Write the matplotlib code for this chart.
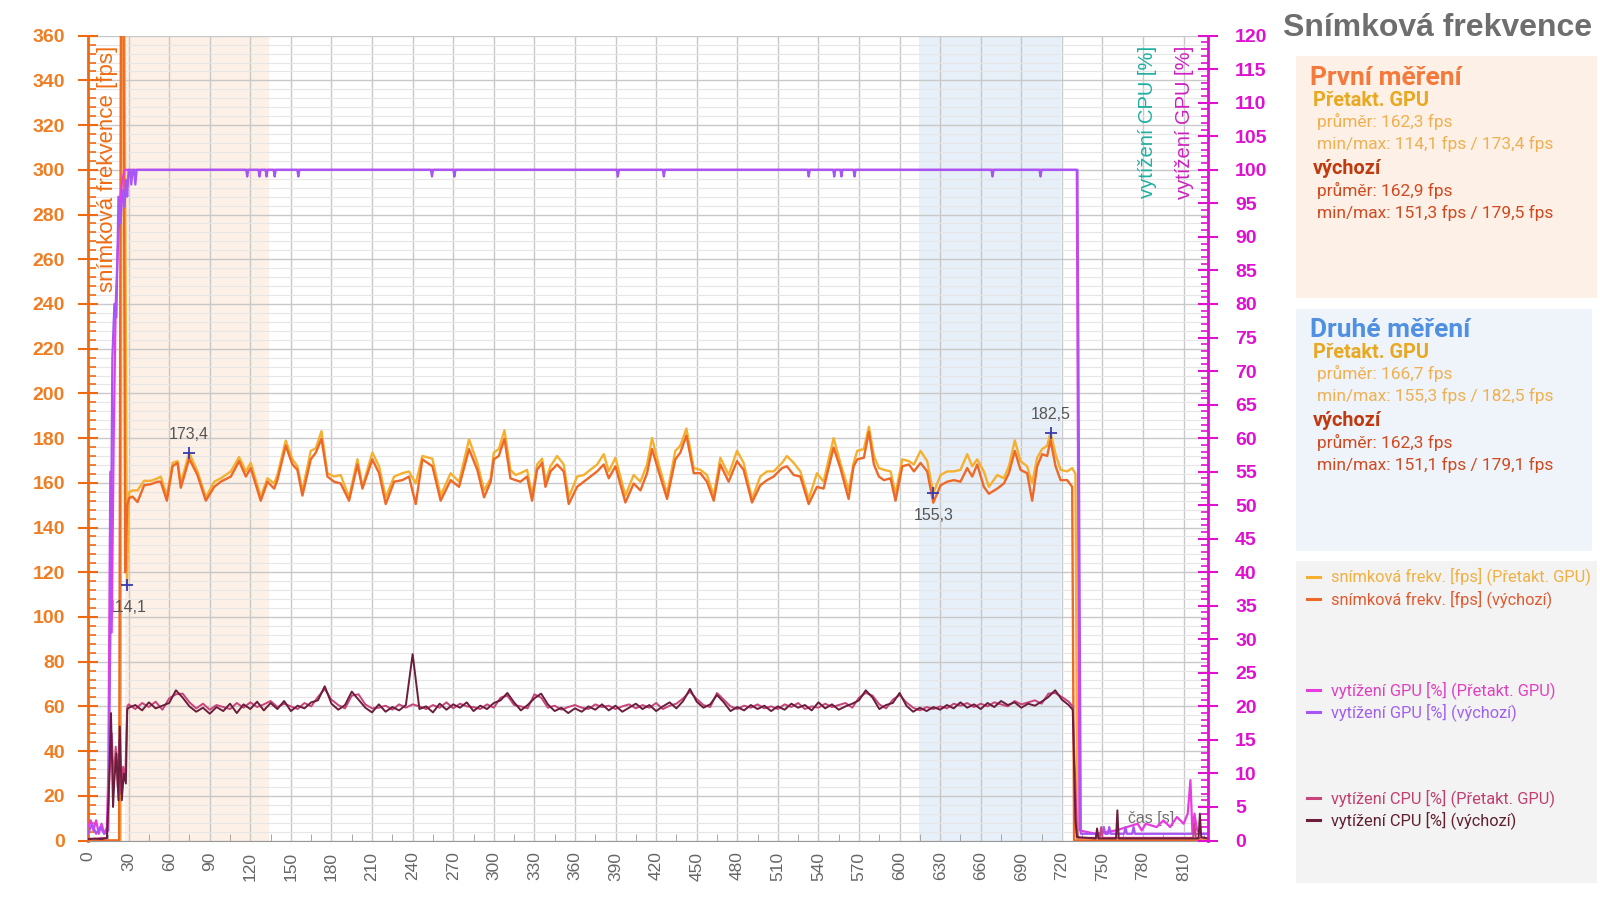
import numpy as np
import matplotlib
matplotlib.use("Agg")
import matplotlib.pyplot as plt
from matplotlib.patches import Rectangle
from matplotlib.lines import Line2D
from matplotlib.ticker import MultipleLocator, FixedLocator

plt.rcParams['font.family'] = ['Liberation Sans', 'DejaVu Sans']

# ---- frame rate (fps), left axis ----
fps_t = [30.4, 32.9, 36.6, 41.5, 46.5, 51.4, 53.8, 58.3, 62.5, 66.2,
         68.6, 74.8, 80.9, 87.1, 93.3, 98.2, 105.6, 111.7, 116.7, 120.3,
         127.7, 132.7, 137.6, 140, 146.2, 151.1, 154.8, 158.5, 164.7, 168.4,
         172.6, 177, 181.9, 186.8, 193, 199.2, 202.9, 210.2, 215.2, 220.1,
         226.3, 232.4, 237.3, 242.3, 247.2, 254.6, 260.7, 268.1, 274.3, 281.7,
         287.8, 292.8, 297.7,
         300, 303.7, 307.9, 312.3, 316, 319.7, 324.6, 328.3, 332, 335.7,
         338.2, 341.9, 346.8, 351.7, 355.4, 361.6, 366.5, 371.4, 376.4, 381.3,
         385, 389.9, 397.3, 403.4, 408.4, 413.3, 417, 421.9, 428.1, 434.2,
         437.9, 442.4, 447.8, 452.7, 457.6, 462.6, 467.5, 473.6, 479.8, 484.7,
         490.9, 497, 502, 506.9, 513.1, 516.7, 521.7, 526.6, 532.8, 538.9,
         543.8, 551.2, 556.2, 562.3, 566,
         568.7, 573.6, 577.3, 581, 584.7, 588.4, 593.3, 597, 602, 606.9,
         610.6, 615.5, 620.4, 624.9, 630.3, 635.2, 640.1, 645, 650, 653.7,
         657.4, 662.3, 666, 672.2, 677.1, 680.8, 685.2, 689.4, 694.3, 698,
         701.7, 705.4, 709.1, 711.6, 715.3, 719, 723.9, 727.6]
fps_def = [153.2, 153.8, 151.4, 158.9, 159.4, 160.5, 160.5, 152.0, 167.4, 168.9,
           157.8, 170.8, 163.5, 152.0, 158.2, 160.5, 162.8, 169.7, 162.8, 166.6,
           152.0, 160.5, 157.4, 161.2, 176.6, 168.2, 165.8, 154.3, 170.5, 173.5,
           179.7, 162.8, 160.5, 159.7, 152.0, 168.2, 157.4, 170.5, 164.3, 150.5,
           160.5, 161.2, 162.8, 150.5, 170.5, 167.4, 152.0, 161.2, 158.2, 175.1,
           165.8, 153.5, 160.5,
           170.5, 172.0, 179.7, 162.0, 161.2, 160.5, 162.8, 152.0, 165.8, 168.9,
           158.2, 165.1, 168.2, 165.1, 150.5, 158.2, 160.5, 162.8, 165.1, 168.2,
           162.0, 167.4, 151.2, 159.7, 156.6, 164.3, 175.1, 165.1, 152.8, 170.5,
           173.5, 181.2, 164.3, 164.3, 160.5, 152.0, 168.2, 160.5, 169.7, 165.8,
           151.2, 158.9, 161.2, 162.8, 166.6, 167.4, 163.5, 162.8, 150.5, 158.2,
           157.4, 175.8, 166.6, 152.8, 167.4,
           170.5, 171.2, 182.8, 168.2, 162.8, 161.2, 162.0, 152.0, 167.4, 168.2,
           165.1, 168.9, 165.1, 151.1, 158.9, 160.5, 161.2, 160.5, 166.6, 162.8,
           168.2, 158.2, 155.1, 157.4, 159.7, 164.3, 174.3, 165.8, 164.3, 152.0,
           167.4, 172.8, 172.0, 179.1, 167.4, 161.2, 161.2, 158.2]
fps_oc = [155.8, 156.6, 156.6, 160.9, 160.9, 162.0, 162.8, 154.3, 168.9, 169.7,
          159.7, 173.4, 165.1, 153.5, 160.5, 162.0, 165.1, 171.5, 165.1, 168.9,
          153.8, 162.0, 159.7, 163.5, 178.9, 170.5, 167.4, 156.6, 174.3, 175.4,
          183.1, 164.3, 162.8, 163.5, 153.5, 170.5, 158.2, 173.5, 167.4, 153.5,
          162.8, 164.3, 165.1, 159.7, 172.0, 170.8, 154.3, 164.3, 160.5, 179.4,
          168.9, 156.6, 162.0,
          173.5, 175.1, 183.5, 165.8, 163.5, 164.3, 165.8, 154.3, 168.2, 170.8,
          160.5, 167.4, 172.0, 168.2, 153.5, 162.8, 163.5, 165.8, 168.2, 172.8,
          165.1, 171.2, 154.3, 163.5, 160.5, 168.2, 180.0, 168.2, 155.1, 174.3,
          176.6, 184.3, 166.6, 165.8, 163.5, 154.3, 171.2, 163.5, 174.3, 168.9,
          152.8, 162.8, 165.1, 165.1, 168.9, 172.0, 168.9, 165.1, 152.8, 164.3,
          160.5, 180.0, 168.9, 156.6, 168.9,
          174.3, 175.1, 185.1, 172.0, 166.6, 165.8, 165.1, 155.1, 170.5, 169.7,
          168.2, 174.3, 169.7, 155.3, 163.5, 165.1, 165.1, 165.8, 172.8, 167.4,
          170.5, 165.1, 158.2, 163.5, 162.0, 167.4, 179.0, 169.7, 167.4, 159.7,
          171.2, 175.1, 176.6, 182.5, 172.8, 165.8, 165.1, 166.6]
fps_def_start_t = [0, 23, 24.5, 26, 27.5, 29]
fps_def_start = [0, 0, 420, 420, 120, 150]
fps_oc_start_t = [0, 24, 25, 26.5, 28.8]
fps_oc_start = [0, 0, 420, 420, 114.1]
fps_def_end_t = [729, 828]
fps_def_end = [0, 0]
fps_oc_end_t = [730, 731.5, 828]
fps_oc_end = [164, 0, 0]

# ---- CPU load (%), right axis, one sample every 5 s from 30 s ----
cpu_def = [19.8, 20.2, 19.4, 20.6, 19.7, 20.1, 20.5, 22.4, 21.3, 20.0,
           19.2, 19.8, 18.9, 19.9, 19.3, 20.4, 19.0, 20.3, 19.6, 20.7,
           19.4, 20.5, 19.6, 20.8, 19.3, 20.1, 19.7, 20.6, 20.9, 23.0,
           20.4, 19.5, 20.2, 22.2, 21.0, 19.8, 19.1, 20.3, 19.2, 19.9,
           19.4, 20.2, 27.8, 19.6, 20.0, 19.1, 20.4, 19.5, 20.3, 19.8,
           20.6, 19.3, 20.1, 19.6, 20.5, 20.9, 22.0, 20.6, 19.4, 20.2,
           21.2, 21.9, 20.3, 19.3, 19.8, 19.0, 19.7, 19.2, 20.0, 19.5,
           20.3, 19.4, 20.1, 19.2, 19.8, 20.4, 19.6, 20.2, 19.3, 20.0,
           20.6, 19.7, 20.8, 22.6, 20.7, 19.8, 20.3, 21.7, 20.6, 19.3,
           19.9, 19.4, 20.2, 19.6, 20.1, 19.3, 20.0, 19.5, 20.4, 19.8,
           20.2, 19.4, 20.6, 19.7, 20.3, 19.5, 20.0, 20.4, 20.9, 22.4,
           21.3, 19.6, 20.2, 20.5, 22.0, 20.1, 19.2, 19.8, 19.3, 19.9,
           19.5, 20.2, 19.7, 20.6, 19.8, 20.3, 19.6, 20.5, 19.9, 20.8,
           20.2, 20.6, 19.8, 20.4, 20.1, 20.7, 21.4, 22.4, 21.0, 20.2]
cpu_oc = [20.3, 19.6, 20.5, 19.9, 20.7, 19.5, 21.2, 21.8, 21.9, 20.6,
          19.7, 20.4, 19.5, 20.2, 19.9, 19.6, 20.5, 19.8, 20.6, 19.9,
          20.3, 20.8, 19.9, 20.4, 20.0, 19.6, 20.5, 20.0, 21.4, 22.6,
          21.0, 20.2, 19.7, 21.6, 21.8, 20.3, 19.7, 19.8, 20.1, 19.5,
          20.3, 19.8, 20.3, 20.0, 19.6, 20.2, 19.8, 20.6, 19.7, 20.4,
          20.0, 19.9, 19.6, 20.3, 19.8, 21.3, 21.6, 20.2, 20.0, 19.7,
          21.8, 21.3, 19.8, 20.1, 19.5, 19.9, 20.2, 19.8, 19.6, 20.3,
          19.9, 20.1, 19.6, 20.0, 20.3, 19.7, 20.2, 19.8, 20.5, 19.6,
          20.1, 20.4, 21.2, 22.2, 21.1, 20.2, 19.9, 22.0, 21.0, 20.0,
          19.6, 20.1, 19.8, 20.3, 19.7, 20.0, 19.6, 20.3, 19.9, 20.5,
          19.6, 20.0, 19.8, 20.4, 19.9, 20.2, 20.5, 19.8, 21.3, 22.0,
          21.6, 20.3, 19.7, 21.0, 21.7, 20.6, 19.8, 19.4, 19.9, 19.6,
          20.0, 19.7, 20.4, 20.1, 20.5, 19.9, 20.4, 20.0, 20.6, 20.3,
          20.0, 20.8, 20.3, 20.6, 20.9, 20.4, 21.9, 22.0, 21.4, 20.7]
cpu_def_start_t = [0, 5, 10, 14, 15.5, 17, 18.5, 19.5, 21, 22.5, 23.5, 25, 26.5, 28, 29]
cpu_def_start = [0.2, 0.3, 0.2, 0.4, 8, 19, 5, 9, 13, 6, 17, 6, 10, 8.5, 19.5]
cpu_oc_start_t = [0, 5, 10, 14, 16, 17.5, 19, 20.5, 22, 23, 24.5, 26, 27.5, 29]
cpu_oc_start = [0.3, 0.2, 0.4, 0.3, 10, 16, 9, 14, 8, 15, 7, 11, 9, 20]
cpu_def_end_t = [728, 730, 731, 745, 746, 747, 760, 761, 762, 821, 822, 823, 828]
cpu_def_end = [19.5, 3, 0.5, 0.3, 1.8, 0.3, 0.3, 4.5, 0.3, 0.3, 4, 0.5, 0.3]
cpu_oc_end_t = [728, 731, 732, 748, 749, 750, 817, 818, 819, 828]
cpu_oc_end = [20, 2, 0.4, 0.4, 2, 0.4, 0.4, 2.5, 0.4, 0.4]

# ---- GPU load (%), right axis ----
gpu_def_t = [0, 3, 6, 9, 12, 15, 16.5, 18, 19.5, 21, 22.5, 24, 25.5, 27, 28, 29, 30, 31, 32,
             33, 34, 35, 36,
             116.9, 117.7, 118.5, 126, 126.8, 127.6, 131.2, 132, 132.8, 137.2, 138, 138.8,
             154.7, 155.5, 156.3, 253.5, 254.3, 255.1, 270.1, 270.9, 271.7,
             390.9, 391.7, 392.5, 424.9, 425.7, 426.5, 532, 532.8, 533.6,
             550.9, 551.7, 552.5, 556.2, 557, 557.8, 565.9, 566.7, 567.5,
             667.9, 668.7, 669.5, 703.4, 704.2, 705,
             731.5, 734, 750, 751, 752, 754, 755, 756, 766, 767, 768, 772, 773, 774, 828]
gpu_def = [1, 2.5, 1, 2, 1, 1.5, 30, 72, 80, 78, 96, 92, 97, 94.5, 98.5, 96, 100, 100, 97.8,
           100, 100, 97.8, 100,
           100, 99, 100, 100, 99, 100, 100, 99, 100, 100, 99, 100,
           100, 99, 100, 100, 99, 100, 100, 99, 100,
           100, 99, 100, 100, 99, 100, 100, 99, 100,
           100, 99, 100, 100, 99, 100, 100, 99, 100,
           100, 99, 100, 100, 99, 100,
           100, 1, 1, 2, 1, 1, 2, 1, 1, 2, 1, 1, 2, 1, 1]
gpu_oc_t = [0, 2, 4, 6, 8, 10, 12, 14, 15, 16.5, 17.5, 19, 20.5, 22, 23.5, 25, 27,
            731, 733, 745, 760, 776, 779, 782, 790, 795, 800, 805, 810, 813, 815,
            816.5, 818, 820, 823, 828]
gpu_oc = [2, 3, 1.5, 3, 1, 2.5, 1, 2, 10, 55, 31, 60, 80, 88, 95, 98, 100,
          100, 1.5, 1, 1.5, 2.5, 1.5, 2.5, 2, 3, 2, 3.5, 2.5, 4, 9,
          1, 4, 1.5, 1, 1]

# ---- annotated extremes ----
ann_t = [28.8, 74.8, 624.9, 711.6]
ann_v = [114.1, 173.4, 155.3, 182.5]
ann_lbl = ['114,1', '173,4', '155,3', '182,5']
ann_dy = [-10, 8, -10, 8]

C_FPS_OC = '#f5b030'
C_FPS_DEF = '#ee6828'
C_GPU_OC = '#e63ce0'
C_GPU_DEF = '#a855f7'
C_CPU_OC = '#c8447a'
C_CPU_DEF = '#6b1e3c'
ORANGE = '#f06a10'
MAGENTA = '#e010d0'

cpu_t = np.arange(30, 30 + 5 * len(cpu_def), 5)

fig = plt.figure(figsize=(16, 9.22), dpi=100)
ax = fig.add_axes([88 / 1600, 1 - 840.5 / 922, 1120 / 1600, 804.8 / 922])
ax2 = ax.twinx()

ax.set_xlim(0, 828)
ax.set_ylim(0, 360)
ax2.set_ylim(0, 120)

# measurement windows
ax.axvspan(27.5, 134, color='#fdf0e6', zorder=0, lw=0)
ax.axvspan(614, 719, color='#e7f0f8', zorder=0, lw=0)

ax.set_axisbelow(True)
ax.xaxis.set_major_locator(MultipleLocator(30))
ax.xaxis.set_minor_locator(FixedLocator(list(range(15, 828, 30))))
ax.yaxis.set_major_locator(MultipleLocator(20))
ax.yaxis.set_minor_locator(MultipleLocator(4))
ax.grid(which='major', color='#c8c8c8', lw=1.0)
ax.grid(which='minor', axis='y', color='#e6e6e6', lw=0.8)

# fps lines
ax.plot(fps_oc_start_t + fps_t + fps_oc_end_t, fps_oc_start + fps_oc + fps_oc_end,
        color=C_FPS_OC, lw=1.7, zorder=3)
ax.plot(fps_def_start_t + fps_t + fps_def_end_t, fps_def_start + fps_def + fps_def_end,
        color=C_FPS_DEF, lw=1.7, zorder=3)

# GPU / CPU lines
ax2.plot(gpu_oc_t, gpu_oc, color=C_GPU_OC, lw=1.6)
ax2.plot(gpu_def_t, gpu_def, color=C_GPU_DEF, lw=1.6)
ax2.plot(cpu_oc_start_t + list(cpu_t) + cpu_oc_end_t, cpu_oc_start + cpu_oc + cpu_oc_end,
         color=C_CPU_OC, lw=1.4)
ax2.plot(cpu_def_start_t + list(cpu_t) + cpu_def_end_t, cpu_def_start + cpu_def + cpu_def_end,
         color=C_CPU_DEF, lw=1.4)

for t, v, s, dy in zip(ann_t, ann_v, ann_lbl, ann_dy):
    ax.plot(t, v, '+', color='#3a3ab0', ms=9, mew=1.3, zorder=5)
    ax.text(t, v + dy, s, ha='center', va='center', color='#555555', fontsize=11.5, zorder=6)

ax.text(786, 10, 'čas [s]', ha='center', va='center', color='#707070', fontsize=11.5)

# spines
ax.spines['top'].set_visible(False)
ax.spines['right'].set_visible(False)
ax.spines['bottom'].set_color('#999999')
ax.spines['left'].set_color(ORANGE)
ax.spines['left'].set_linewidth(2)
for s in ['top', 'left', 'bottom']:
    ax2.spines[s].set_visible(False)
ax2.spines['right'].set_color(MAGENTA)
ax2.spines['right'].set_linewidth(2)

ax.tick_params(axis='y', which='major', direction='inout', length=15, width=1.5,
               color=ORANGE, labelcolor='#f07d22', labelsize=14, pad=9)
ax.tick_params(axis='y', which='minor', direction='in', length=6, width=1.2, color=ORANGE)
ax.tick_params(axis='x', which='major', length=0, labelsize=12.5, labelcolor='#666666',
               labelrotation=90, pad=8)
ax.tick_params(axis='x', which='minor', direction='in', length=5, color='#999999')
for lbl in ax.get_yticklabels():
    lbl.set_fontweight('bold')

ax2.yaxis.set_major_locator(MultipleLocator(5))
ax2.yaxis.set_minor_locator(MultipleLocator(1))
ax2.tick_params(axis='y', which='major', direction='inout', length=15, width=1.5,
                color=MAGENTA, labelcolor=MAGENTA, labelsize=14, pad=12)
ax2.tick_params(axis='y', which='minor', direction='in', length=5, width=1.2, color=MAGENTA)
for lbl in ax2.get_yticklabels():
    lbl.set_fontweight('bold')

# axis titles drawn inside the plot
ax.text(0.017, 0.987, 'snímková frekvence [fps]', transform=ax.transAxes, rotation=90,
        ha='center', va='top', color=ORANGE, fontsize=16)
ax.text(0.946, 0.987, 'vytížení CPU [%]', transform=ax.transAxes, rotation=90,
        ha='center', va='top', color='#20b0a0', fontsize=14.5)
ax.text(0.979, 0.987, 'vytížení GPU [%]', transform=ax.transAxes, rotation=90,
        ha='center', va='top', color='#d020c0', fontsize=14.5)


def fx(x):
    return x / 1600


def fy(y):
    return 1 - y / 922


fig.text(fx(1592), fy(27.5), 'Snímková frekvence', ha='right', va='center',
         fontsize=23, fontweight='bold', color='#6e6e6e')

# side panels
panels = [(1296, 56, 1597, 298, '#fdf0e6'),
          (1296, 309, 1592, 551, '#eef4fa'),
          (1296, 561, 1597, 883, '#f3f3f3')]
for x0, y0, x1, y1, c in panels:
    fig.add_artist(Rectangle((fx(x0), fy(y1)), (x1 - x0) / 1600, (y1 - y0) / 922,
                             transform=fig.transFigure, facecolor=c, edgecolor='none',
                             zorder=0))

stat_blocks = [
    (77.6, 'První měření', '#f5793a', ['162,3', '114,1', '173,4'], ['162,9', '151,3', '179,5']),
    (329.6, 'Druhé měření', '#5090e0', ['166,7', '155,3', '182,5'], ['162,3', '151,1', '179,1']),
]
for y, head, hc, oc, de in stat_blocks:
    fig.text(fx(1310), fy(y), head, ha='left', va='center', fontsize=19,
             fontweight='bold', color=hc, family='Roboto')
    fig.text(fx(1313), fy(y + 23), 'Přetakt. GPU', ha='left', va='center', fontsize=14.3,
             fontweight='bold', color='#e8a820', family='Roboto')
    fig.text(fx(1317), fy(y + 44), 'průměr: %s fps' % oc[0], ha='left', va='center',
             fontsize=12.5, color='#f0b050', family='Roboto')
    fig.text(fx(1317), fy(y + 66), 'min/max: %s fps / %s fps' % (oc[1], oc[2]),
             ha='left', va='center', fontsize=12.5, color='#f0b050', family='Roboto')
    fig.text(fx(1313), fy(y + 91), 'výchozí', ha='left', va='center', fontsize=14.3,
             fontweight='bold', color='#c03a10', family='Roboto')
    fig.text(fx(1317), fy(y + 113), 'průměr: %s fps' % de[0], ha='left', va='center',
             fontsize=12.5, color='#d04a20', family='Roboto')
    fig.text(fx(1317), fy(y + 135), 'min/max: %s fps / %s fps' % (de[1], de[2]),
             ha='left', va='center', fontsize=12.5, color='#d04a20', family='Roboto')

legend_items = [
    (576.5, 'snímková frekv. [fps] (Přetakt. GPU)', C_FPS_OC, '#f0b040'),
    (599, 'snímková frekv. [fps] (výchozí)', C_FPS_DEF, '#e05a30'),
    (690, 'vytížení GPU [%] (Přetakt. GPU)', C_GPU_OC, '#e040c0'),
    (712, 'vytížení GPU [%] (výchozí)', C_GPU_DEF, '#a060f0'),
    (798, 'vytížení CPU [%] (Přetakt. GPU)', C_CPU_OC, '#c04070'),
    (820, 'vytížení CPU [%] (výchozí)', C_CPU_DEF, '#602030'),
]
for y, s, lc, tc in legend_items:
    fig.add_artist(Line2D([fx(1307), fx(1320)], [fy(y), fy(y)], color=lc, lw=2.2,
                          transform=fig.transFigure))
    fig.text(fx(1331), fy(y), s, ha='left', va='center', fontsize=11.8, color=tc,
             family='Roboto')

fig.savefig('out.png', dpi=100)
